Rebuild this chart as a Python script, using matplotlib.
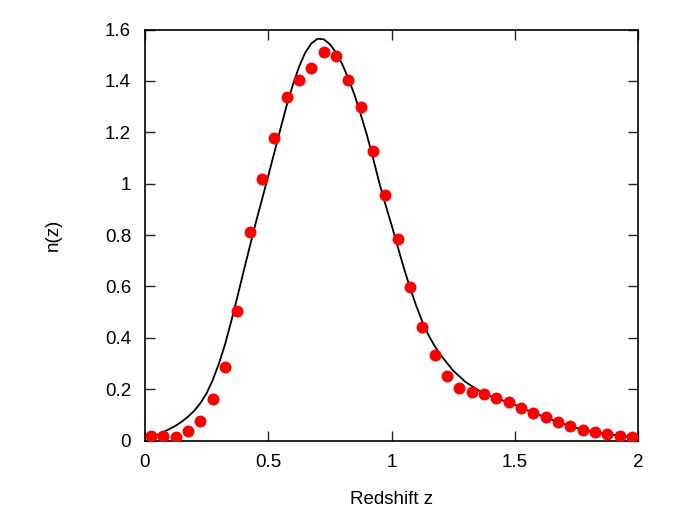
import matplotlib
matplotlib.use("Agg")
import matplotlib.pyplot as plt

plt.rcParams['font.family'] = ['Liberation Sans', 'DejaVu Sans']

# Measured n(z) (red points)
z_points = [0.025, 0.075, 0.125, 0.175, 0.225, 0.275, 0.325, 0.375, 0.425, 0.475,
            0.525, 0.575, 0.625, 0.675, 0.725, 0.775, 0.825, 0.875, 0.925, 0.975,
            1.025, 1.075, 1.125, 1.175, 1.225, 1.275, 1.325, 1.375, 1.425, 1.475,
            1.525, 1.575, 1.625, 1.675, 1.725, 1.775, 1.825, 1.875, 1.925, 1.975]
n_points = [0.017, 0.018, 0.015, 0.037, 0.077, 0.161, 0.285, 0.504, 0.810, 1.019,
            1.176, 1.339, 1.404, 1.451, 1.513, 1.496, 1.404, 1.297, 1.126, 0.955,
            0.783, 0.598, 0.440, 0.333, 0.252, 0.206, 0.188, 0.180, 0.164, 0.149,
            0.128, 0.108, 0.090, 0.072, 0.056, 0.042, 0.033, 0.025, 0.019, 0.015]

# Model curve (black line)
z_curve = [0.0, 0.025, 0.05, 0.075, 0.1, 0.125, 0.15, 0.175, 0.2, 0.225, 0.25, 0.275,
           0.3, 0.325, 0.35, 0.375, 0.4, 0.425, 0.45, 0.475, 0.5, 0.525, 0.55,
           0.575, 0.6, 0.625, 0.65, 0.675, 0.7, 0.725, 0.75, 0.775, 0.8, 0.825,
           0.85, 0.875, 0.9, 0.925, 0.95, 0.975, 1.0, 1.025, 1.05, 1.075, 1.1,
           1.125, 1.15, 1.175, 1.2, 1.25, 1.3, 1.35, 1.4, 1.45, 1.5, 1.55, 1.6,
           1.65, 1.7, 1.75, 1.8, 1.85, 1.9, 1.95, 2.0]
n_curve = [0.008, 0.014, 0.022, 0.033, 0.045, 0.058, 0.074, 0.093, 0.116, 0.146,
           0.184, 0.236, 0.300, 0.375, 0.465, 0.560, 0.658, 0.755, 0.850, 0.940,
           1.030, 1.122, 1.215, 1.305, 1.385, 1.455, 1.510, 1.546, 1.564, 1.562,
           1.543, 1.510, 1.465, 1.410, 1.345, 1.270, 1.190, 1.100, 1.005, 0.920,
           0.840, 0.755, 0.672, 0.595, 0.525, 0.463, 0.410, 0.368, 0.332, 0.272,
           0.228, 0.197, 0.173, 0.156, 0.139, 0.118, 0.099, 0.081, 0.064, 0.049,
           0.038, 0.029, 0.022, 0.017, 0.012]

x_ticks = [0, 0.5, 1, 1.5, 2]
x_tick_labels = ['0', '0.5', '1', '1.5', '2']
y_ticks = [0, 0.2, 0.4, 0.6, 0.8, 1.0, 1.2, 1.4, 1.6]
y_tick_labels = ['0', '0.2', '0.4', '0.6', '0.8', '1', '1.2', '1.4', '1.6']

fig = plt.figure(figsize=(6.75, 5.17), dpi=100)
ax = fig.add_axes([145 / 675, 1 - 440.5 / 517, (638 - 145) / 675, (440.5 - 29.5) / 517])

ax.plot(z_curve, n_curve, color='black', lw=1.3, zorder=2)
ax.plot(z_points, n_points, 'o', color='#ff0000', ms=8.6, mec='none', zorder=3)

ax.set_xlim(0, 2)
ax.set_ylim(0, 1.6)
ax.set_xticks(x_ticks)
ax.set_xticklabels(x_tick_labels)
ax.set_yticks(y_ticks)
ax.set_yticklabels(y_tick_labels)

ax.tick_params(direction='in', length=7, width=1.0, color='#222222',
               top=True, right=True, labelsize=13.5, pad=10)
for s in ax.spines.values():
    s.set_linewidth(1.2)

ax.set_xlabel('Redshift z', fontsize=13.5, labelpad=14)
ax.set_ylabel('n(z)', fontsize=13.5, labelpad=31)

fig.savefig('out.png', dpi=100)
